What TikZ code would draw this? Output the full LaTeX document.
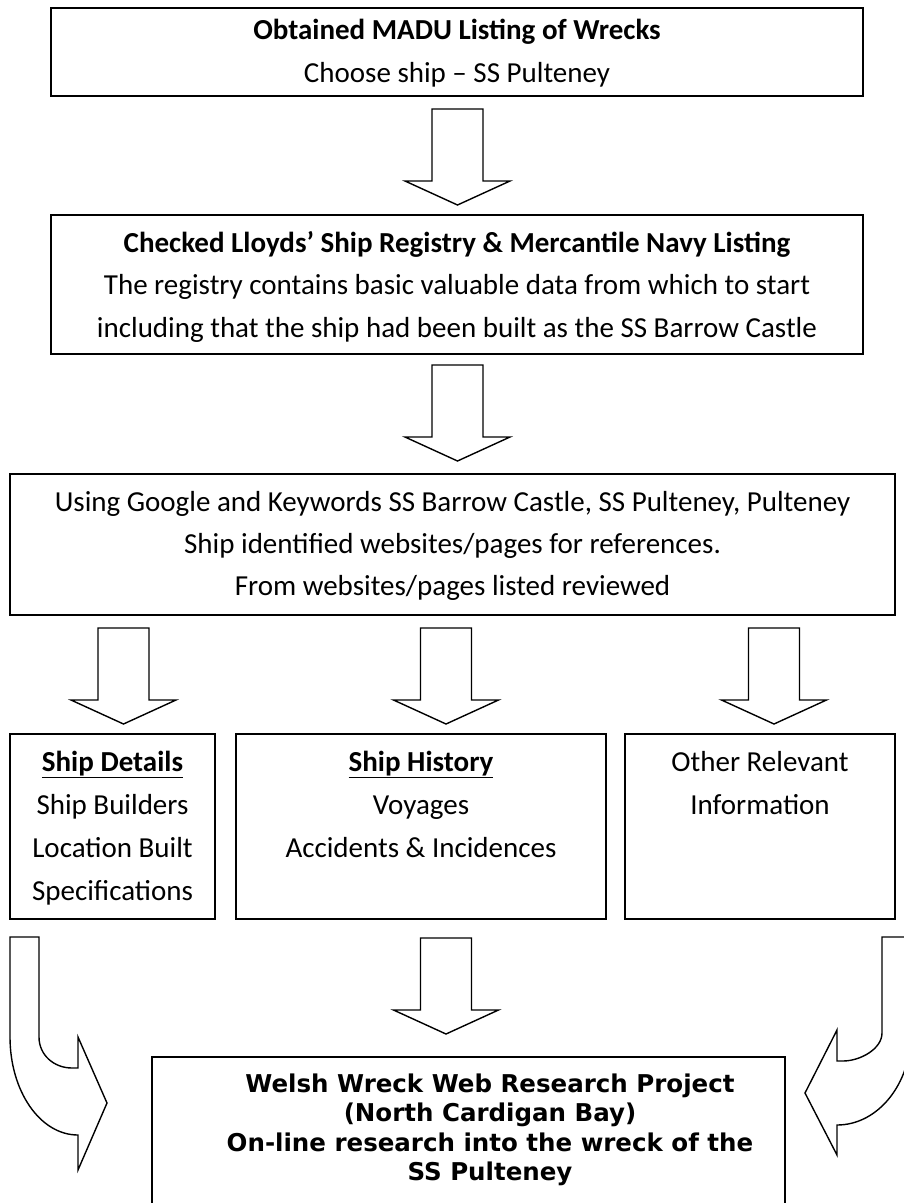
\documentclass[tikz,border=0pt]{standalone}
\usepackage{fontspec}
\setmainfont{Carlito}
\newfontfamily\verd{DejaVu Sans}
\newcommand\blockdown[4]{% cx, top, base, tip
  \draw[blk] ({#1-25.5},#2) -- ({#1+25.5},#2) -- ({#1+25.5},#3) -- ({#1+52.5},#3)
    -- (#1,#4) -- ({#1-52.5},#3) -- ({#1-25.5},#3) -- cycle;}
\begin{document}
\begin{tikzpicture}[x=1pt,y=-1pt,
  box/.style={draw=black, line width=1.8pt, inner sep=0pt},
  blk/.style={draw=black, line width=1.4pt, fill=white, line join=miter},
  txt/.style={anchor=base, inner sep=0pt, font=\fontsize{29}{35}\selectfont},
  vtxt/.style={anchor=base, inner sep=0pt, font=\verd\bfseries\fontsize{24.5}{30}\selectfont}]
\path[use as bounding box] (0,0) rectangle (904,1203);
\clip (0,0) rectangle (904,1203);
\fill[white] (0,0) rectangle (904,1203);

% boxes
\node[box, minimum width=812pt, minimum height=88pt] (b1) at (457,52) {};
\node[box, minimum width=812pt, minimum height=139pt] (b2) at (457,284.5) {};
\node[box, minimum width=885pt, minimum height=141pt] (b3) at (452.5,544.5) {};
\node[box, minimum width=205pt, minimum height=185pt] (b4) at (112.5,826.5) {};
\node[box, minimum width=370pt, minimum height=185pt] (b5) at (421,826.5) {};
\node[box, minimum width=270pt, minimum height=185pt] (b6) at (760,826.5) {};
\node[box, minimum width=633pt, minimum height=173pt] (b7) at (468.5,1143.5) {};

% texts
\node[txt] (t1a) at (457,39) {\bfseries Obtained MADU Listing of Wrecks};
\node[txt] (t1b) at (457,82) {Choose ship – SS Pulteney};
\node[txt] (t2a) at (457,252) {\bfseries Checked Lloyds’ Ship Registry \& Mercantile Navy Listing};
\node[txt] (t2b) at (457,294.5) {The registry contains basic valuable data from which to start};
\node[txt] (t2c) at (457,337) {including that the ship had been built as the SS Barrow Castle};
\node[txt] (t3a) at (452.5,511) {Using Google and Keywords SS Barrow Castle, SS Pulteney, Pulteney};
\node[txt] (t3b) at (452.5,553) {Ship identified websites/pages for references.};
\node[txt] (t3c) at (452.5,595) {From websites/pages listed reviewed};
\node[txt] (t4a) at (112.5,771) {\underline{\bfseries Ship Details}};
\node[txt] (t4b) at (112.5,814) {Ship Builders};
\node[txt] (t4c) at (112.5,857) {Location Built};
\node[txt] (t4d) at (112.5,900) {Specifications};
\node[txt] (t5a) at (421,771) {\underline{\bfseries Ship History}};
\node[txt] (t5b) at (421,814) {Voyages};
\node[txt] (t5c) at (421,857) {Accidents \& Incidences};
\node[txt] (t6a) at (760,771) {Other Relevant};
\node[txt] (t6b) at (760,814) {Information};
\node[vtxt] (t7a) at (490,1092) {Welsh Wreck Web Research Project};
\node[vtxt] (t7b) at (490,1121.5) {(North Cardigan Bay)};
\node[vtxt] (t7c) at (490,1151) {On-line research into the wreck of the};
\node[vtxt] (t7d) at (490,1180.5) {SS Pulteney};

% straight block arrows
\blockdown{457.5}{109}{181}{205}
\blockdown{457.5}{365}{437}{461}
\blockdown{123.5}{628}{700}{724}
\blockdown{446}{628}{700}{724}
\blockdown{774}{628}{700}{724}
\blockdown{446}{938}{1010}{1034}

% curved block arrows
\draw[blk] (10,937) -- (39,937) -- (39,1037)
  .. controls (39,1055) and (54,1068) .. (72,1068) -- (78,1068)
  -- (78,1037) -- (107,1103) -- (78,1170) -- (78,1135)
  .. controls (40,1135) and (10,1091) .. (10,1037) -- cycle;
\draw[blk] (911,937) -- (882,937) -- (882,1033)
  .. controls (882,1049) and (860,1061) .. (843,1061) -- (837,1061)
  -- (837,1030) -- (805,1093) -- (837,1155) -- (837,1125)
  .. controls (878,1125) and (911,1084) .. (911,1033) -- cycle;
\end{tikzpicture}
\end{document}
